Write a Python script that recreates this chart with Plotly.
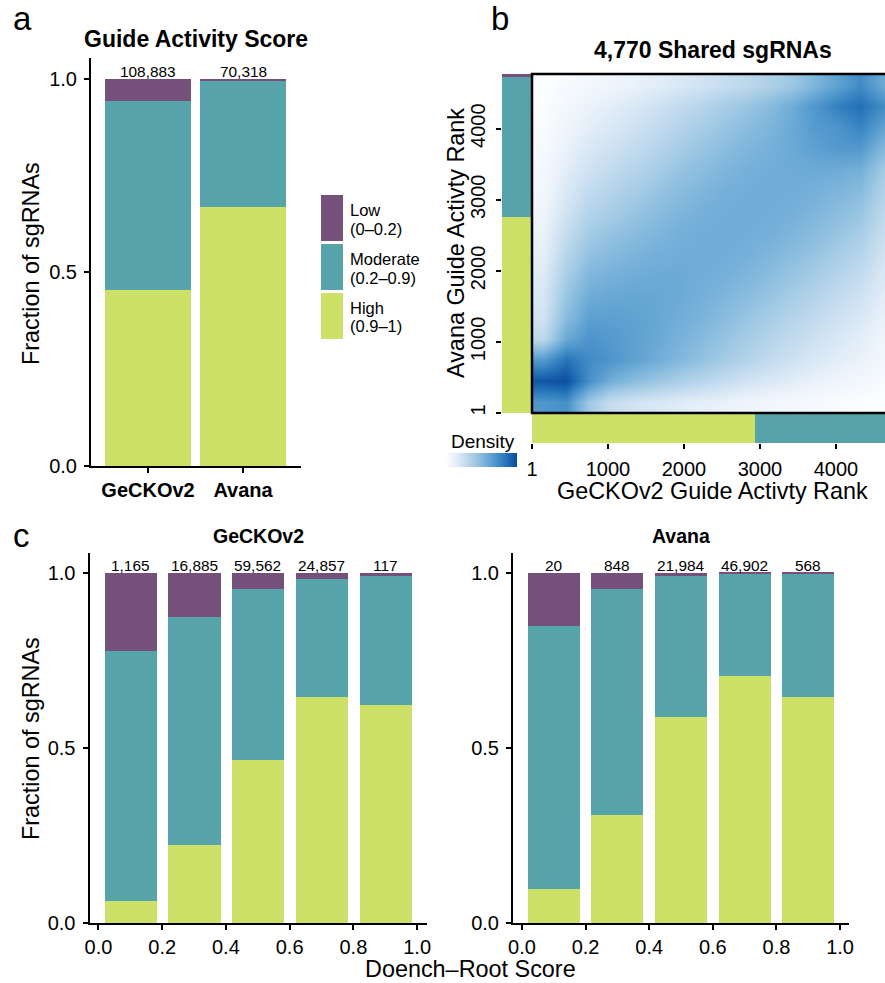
import plotly.graph_objects as go

W, H = 885, 983
FONT = "Liberation Sans, Arial, Helvetica, sans-serif"


def px(x):
    return x / W


def py(y):
    return 1 - y / H


COL_LOW = "#74507B"
COL_MOD = "#57A3AA"
COL_HIGH = "#CDE168"

# ---------------- Panel a data ----------------
libraries = ["GeCKOv2", "Avana"]
library_counts = ["108,883", "70,318"]
a_high = [0.455, 0.668]
a_moderate = [0.489, 0.327]
a_low = [0.056, 0.005]

# ---------------- Panel b data ----------------
rank_centers = [150, 448, 746, 1044, 1342, 1640, 1938, 2236,
                2535, 2833, 3131, 3429, 3727, 4025, 4323, 4621]
# density[row = Avana rank bin (bottom->top)][col = GeCKOv2 rank bin]
density = [
    [6.50, 6.80, 3.90, 2.58, 2.14, 1.86, 1.59, 1.33, 1.10, 0.90, 0.72, 0.58, 0.44, 0.34, 0.25, 0.14],
    [9.00, 9.30, 6.80, 5.32, 4.60, 4.07, 3.56, 3.06, 2.60, 2.16, 1.79, 1.45, 1.15, 0.89, 0.67, 0.40],
    [6.40, 8.00, 7.00, 6.56, 5.97, 5.44, 4.87, 4.31, 3.75, 3.19, 2.70, 2.24, 1.81, 1.44, 1.11, 0.67],
    [2.94, 5.62, 6.65, 6.32, 6.03, 5.64, 5.20, 4.71, 4.22, 3.69, 3.19, 2.70, 2.24, 1.81, 1.44, 0.89],
    [2.18, 4.67, 6.03, 6.06, 5.94, 5.73, 5.43, 5.06, 4.60, 4.17, 3.69, 3.19, 2.70, 2.24, 1.81, 1.15],
    [1.90, 4.14, 5.49, 5.67, 5.74, 5.69, 5.55, 5.31, 4.98, 4.60, 4.17, 3.69, 3.19, 2.70, 2.24, 1.45],
    [1.61, 3.61, 4.91, 5.23, 5.44, 5.55, 5.57, 5.44, 5.26, 4.98, 4.60, 4.17, 3.69, 3.19, 2.70, 1.79],
    [1.35, 3.09, 4.34, 4.73, 5.07, 5.32, 5.44, 5.50, 5.44, 5.26, 4.98, 4.60, 4.17, 3.69, 3.19, 2.16],
    [1.11, 2.62, 3.76, 4.23, 4.64, 4.98, 5.26, 5.44, 5.50, 5.44, 5.26, 4.98, 4.60, 4.17, 3.69, 2.55],
    [0.90, 2.16, 3.19, 3.69, 4.17, 4.60, 4.98, 5.26, 5.44, 5.50, 5.44, 5.26, 4.98, 4.60, 4.17, 2.95],
    [0.72, 1.79, 2.70, 3.19, 3.69, 4.17, 4.60, 4.98, 5.26, 5.44, 5.50, 5.44, 5.26, 4.98, 4.67, 3.39],
    [0.58, 1.45, 2.24, 2.70, 3.19, 3.69, 4.17, 4.60, 4.98, 5.26, 5.44, 5.50, 5.59, 5.54, 5.32, 3.90],
    [0.44, 1.15, 1.81, 2.24, 2.70, 3.19, 3.69, 4.17, 4.60, 4.98, 5.26, 5.62, 6.01, 6.39, 6.40, 4.90],
    [0.34, 0.89, 1.44, 1.81, 2.24, 2.70, 3.19, 3.69, 4.17, 4.60, 5.03, 5.64, 6.30, 6.60, 7.30, 6.00],
    [0.25, 0.67, 1.11, 1.44, 1.81, 2.24, 2.70, 3.19, 3.69, 4.17, 4.72, 5.51, 6.50, 7.50, 8.10, 7.00],
    [0.14, 0.40, 0.67, 0.89, 1.15, 1.45, 1.79, 2.16, 2.55, 2.95, 3.43, 4.06, 5.00, 6.00, 7.00, 5.60],
]
avana_strip = [2757, 1976, 37]      # High, Moderate, Low rank spans (Avana, y)
gecko_strip = [2934, 1800, 36]      # High, Moderate, Low rank spans (GeCKOv2, x)
rank_ticks = [1, 1000, 2000, 3000, 4000]

# ---------------- Panel c data ----------------
score_bins = [0.1, 0.3, 0.5, 0.7, 0.9]
score_ticks = [0.0, 0.2, 0.4, 0.6, 0.8, 1.0]
gecko_counts = ["1,165", "16,885", "59,562", "24,857", "117"]
gecko_high = [0.064, 0.224, 0.466, 0.646, 0.624]
gecko_moderate = [0.713, 0.650, 0.489, 0.338, 0.367]
gecko_low = [0.223, 0.126, 0.045, 0.016, 0.009]
avana_counts = ["20", "848", "21,984", "46,902", "568"]
avana_high = [0.098, 0.309, 0.588, 0.706, 0.647]
avana_moderate = [0.751, 0.646, 0.403, 0.293, 0.352]
avana_low = [0.151, 0.045, 0.009, 0.001, 0.001]

fig = go.Figure()

# Panel a bars
for vals, col in [(a_high, COL_HIGH), (a_moderate, COL_MOD), (a_low, COL_LOW)]:
    fig.add_trace(go.Bar(x=libraries, y=vals, width=0.9, marker=dict(color=col, line=dict(width=0)),
                         xaxis="x", yaxis="y", showlegend=False, hoverinfo="skip"))

# Panel b heatmap
blues = [[0.0, "#FFFFFF"], [0.12, "#EAF2FA"], [0.25, "#CCE0F1"], [0.4, "#A5CCE5"],
         [0.55, "#78B2DA"], [0.7, "#4D95CB"], [0.85, "#2573B8"], [1.0, "#0A4A9E"]]
fig.add_trace(go.Heatmap(
    x=rank_centers, y=rank_centers, z=density, zmin=0, zmax=9.4, zsmooth="best",
    colorscale=blues, xaxis="x2", yaxis="y2", hoverinfo="skip",
    colorbar=dict(orientation="h", x=px(445), xanchor="left", y=py(467), yanchor="bottom",
                  len=72, lenmode="pixels", thickness=14, thicknessmode="pixels",
                  outlinewidth=0, showticklabels=False, ticks="", xpad=0, ypad=0),
))

# Side strips
for val, col in zip(avana_strip, [COL_HIGH, COL_MOD, COL_LOW]):
    fig.add_trace(go.Bar(x=[0], y=[val], width=1, marker=dict(color=col, line=dict(width=0)),
                         xaxis="x3", yaxis="y2", showlegend=False, hoverinfo="skip"))
for val, col in zip(gecko_strip, [COL_HIGH, COL_MOD, COL_LOW]):
    fig.add_trace(go.Bar(y=[0], x=[val], width=1, orientation="h",
                         marker=dict(color=col, line=dict(width=0)),
                         xaxis="x2", yaxis="y3", showlegend=False, hoverinfo="skip"))

# Panel c bars
for vals, col in [(gecko_high, COL_HIGH), (gecko_moderate, COL_MOD), (gecko_low, COL_LOW)]:
    fig.add_trace(go.Bar(x=score_bins, y=vals, width=0.164, marker=dict(color=col, line=dict(width=0)),
                         xaxis="x4", yaxis="y4", showlegend=False, hoverinfo="skip"))
for vals, col in [(avana_high, COL_HIGH), (avana_moderate, COL_MOD), (avana_low, COL_LOW)]:
    fig.add_trace(go.Bar(x=score_bins, y=vals, width=0.164, marker=dict(color=col, line=dict(width=0)),
                         xaxis="x5", yaxis="y5", showlegend=False, hoverinfo="skip"))

tickfont = dict(family=FONT, size=20, color="black")
ax = dict(showline=True, linecolor="black", linewidth=2, ticks="outside", ticklen=5,
          tickwidth=2, tickcolor="black", showgrid=False, zeroline=False, tickfont=tickfont,
          ticklabelstandoff=3, automargin=False)
hidden = dict(visible=False, showgrid=False, zeroline=False, automargin=False)

frac_ticks = dict(tickvals=[0, 0.5, 1.0], ticktext=["0.0", "0.5", "1.0"])

fig.update_layout(
    template="none",
    width=W, height=H, margin=dict(l=0, r=0, t=0, b=0, pad=0, autoexpand=False),
    paper_bgcolor="white", plot_bgcolor="white", barmode="stack", bargap=0,
    font=dict(family=FONT, color="black"),
    showlegend=False,
    xaxis=dict(ax, domain=[px(91), px(301)], range=[-0.6, 1.61], anchor="y", ticklabelstandoff=0,
               tickfont=dict(family=FONT, size=20, color="black", weight="bold")),
    yaxis=dict(ax, domain=[py(466), py(58)], range=[0, 1.054], anchor="x", **frac_ticks),
    xaxis2=dict(ax, showline=False, domain=[px(532), 1.0], range=[1, 4646], anchor="y3",
                tickvals=rank_ticks, ticktext=[str(v) for v in rank_ticks]),
    yaxis2=dict(ax, showline=False, domain=[py(413), py(74)], range=[1, 4770], anchor="x3",
                tickvals=rank_ticks, ticktext=[str(v) for v in rank_ticks], tickangle=-90),
    xaxis3=dict(hidden, domain=[px(502), px(531.5)], range=[-0.5, 0.5], anchor="y2"),
    yaxis3=dict(hidden, domain=[py(443), py(414)], range=[-0.5, 0.5], anchor="x2"),
    xaxis4=dict(ax, domain=[px(89.5), px(427)], range=[-0.028, 1.031], anchor="y4",
                ticklabelstandoff=0,
                tickvals=score_ticks, ticktext=["%.1f" % v for v in score_ticks]),
    yaxis4=dict(ax, domain=[py(923), py(553)], range=[0, 1.057], anchor="x4", **frac_ticks),
    xaxis5=dict(ax, domain=[px(513), px(849)], range=[-0.028, 1.028], anchor="y5",
                ticklabelstandoff=0,
                tickvals=score_ticks, ticktext=["%.1f" % v for v in score_ticks]),
    yaxis5=dict(ax, domain=[py(923), py(553)], range=[0, 1.057], anchor="x5", **frac_ticks),
)

ann = []


def text(x, y, s, size, bold=False, angle=0, xanchor="center", yanchor="middle", yshift=0):
    ann.append(dict(text=s, showarrow=False, textangle=angle, xanchor=xanchor, yanchor=yanchor,
                    x=px(x), y=py(y), xref="paper", yref="paper", yshift=yshift,
                    font=dict(family=FONT, size=size, color="black",
                              weight="bold" if bold else "normal")))


# Panel letters
text(11, 0, "a", 33, xanchor="left", yanchor="top", yshift=2)
text(489, 0, "b", 33, xanchor="left", yanchor="top", yshift=2)
text(11, 535, "c", 33, xanchor="left")

# Titles
text(196, 39, "Guide Activity Score", 23, bold=True)
text(713, 50, "4,770 Shared sgRNAs", 23, bold=True)
text(258, 536, "GeCKOv2", 19.5, bold=True)
text(681, 536, "Avana", 19.5, bold=True)

# Axis titles
text(31, 264, "Fraction of sgRNAs", 23.4, angle=-90)
text(31, 739, "Fraction of sgRNAs", 23.4, angle=-90)
text(456, 243, "Avana Guide Activty Rank", 23.4, angle=-90)
text(712, 491, "GeCKOv2 Guide Activty Rank", 23.4)
text(470, 969, "Doench–Root Score", 23.4)
text(483, 441, "Density", 19)

# Count labels
cfont = dict(family=FONT, size=15.4, color="black")
for lib, c in zip(libraries, library_counts):
    ann.append(dict(x=lib, y=1.0, xref="x", yref="y", text=c, showarrow=False, yanchor="bottom",
                    yshift=-3, font=cfont))
for xb, c in zip(score_bins, gecko_counts):
    ann.append(dict(x=xb, y=1.0, xref="x4", yref="y4", text=c, showarrow=False, yanchor="bottom",
                    yshift=-3, font=cfont))
for xb, c in zip(score_bins, avana_counts):
    ann.append(dict(x=xb, y=1.0, xref="x5", yref="y5", text=c, showarrow=False, yanchor="bottom",
                    yshift=-3, font=cfont))

# Legend (manual keys)
shapes = []
legend_items = [("Low", "(0–0.2)", COL_LOW, 195, 241),
                ("Moderate", "(0.2–0.9)", COL_MOD, 244, 290),
                ("High", "(0.9–1)", COL_HIGH, 293, 339)]
for l1, l2, col, y0, y1 in legend_items:
    shapes.append(dict(type="rect", xref="paper", yref="paper", x0=px(321), x1=px(343),
                       y0=py(y1), y1=py(y0), fillcolor=col, line=dict(width=0)))
    cy = (y0 + y1) / 2
    text(348, cy - 8.5, l1, 16.5, xanchor="left")
    text(348, cy + 10.5, l2, 16.5, xanchor="left")

# Heatmap frame
shapes.append(dict(type="rect", xref="paper", yref="paper", x0=px(532), x1=1.05,
                   y0=py(413), y1=py(74), line=dict(color="black", width=2.5),
                   fillcolor="rgba(0,0,0,0)"))

fig.update_layout(annotations=ann, shapes=shapes)
fig.write_html("out.html", config={"displayModeBar": False},
               post_script="document.body.style.margin='0px';")
